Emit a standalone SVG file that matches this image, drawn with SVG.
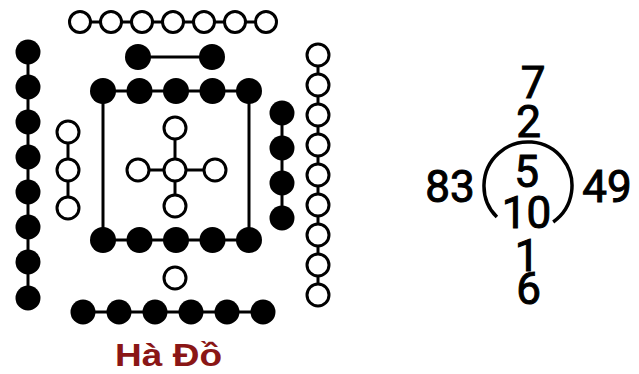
<svg xmlns="http://www.w3.org/2000/svg" width="639" height="374" viewBox="0 0 639 374">
<style>
.c{stroke:#000;stroke-width:3;fill:none}
.b{fill:#000}
.o{fill:#fff;stroke:#000;stroke-width:3}
.n{font-family:Roboto,"Liberation Sans",Arial,sans-serif;font-size:44px;fill:#000;stroke:#000;stroke-width:1;text-anchor:middle}
.t{font-family:"Liberation Sans",Arial,sans-serif;font-size:32px;font-weight:bold;fill:#8a1616}
</style>
<rect width="639" height="374" fill="#fff"/>
<g id="connectors" class="c">
<line x1="80" y1="22" x2="266" y2="22"/>
<line x1="138" y1="57" x2="212" y2="57"/>
<line x1="103" y1="91" x2="249" y2="91"/>
<line x1="103" y1="240" x2="249" y2="240"/>
<line x1="103" y1="91" x2="103" y2="240"/>
<line x1="249" y1="91" x2="249" y2="240"/>
<line x1="28" y1="52" x2="28" y2="298"/>
<line x1="68" y1="132" x2="68" y2="208"/>
<line x1="138" y1="170" x2="215" y2="170"/>
<line x1="175" y1="128" x2="175" y2="206"/>
<line x1="83" y1="312" x2="263" y2="312"/>
<line x1="282" y1="113" x2="282" y2="218"/>
<line x1="318" y1="55" x2="318" y2="295"/>
</g>
<g id="top-open-7">
<circle class="o" cx="80" cy="22" r="10.5"/><circle class="o" cx="111" cy="22" r="10.5"/><circle class="o" cx="142" cy="22" r="10.5"/><circle class="o" cx="173" cy="22" r="10.5"/><circle class="o" cx="204" cy="22" r="10.5"/><circle class="o" cx="235" cy="22" r="10.5"/><circle class="o" cx="266" cy="22" r="10.5"/>
</g>
<g id="top-black-2">
<circle class="b" cx="138" cy="57" r="13"/><circle class="b" cx="212" cy="57" r="13"/>
</g>
<g id="inner-black-top-5">
<circle class="b" cx="103" cy="91" r="13"/><circle class="b" cx="139.5" cy="91" r="13"/><circle class="b" cx="176" cy="91" r="13"/><circle class="b" cx="212.5" cy="91" r="13"/><circle class="b" cx="249" cy="91" r="13"/>
</g>
<g id="inner-black-bottom-5">
<circle class="b" cx="103" cy="240" r="13"/><circle class="b" cx="139.5" cy="240" r="13"/><circle class="b" cx="176" cy="240" r="13"/><circle class="b" cx="212.5" cy="240" r="13"/><circle class="b" cx="249" cy="240" r="13"/>
</g>
<g id="left-black-8">
<circle class="b" cx="28" cy="52" r="12.5"/><circle class="b" cx="28" cy="87" r="12.5"/><circle class="b" cx="28" cy="122" r="12.5"/><circle class="b" cx="28" cy="157" r="12.5"/><circle class="b" cx="28" cy="192" r="12.5"/><circle class="b" cx="28" cy="227" r="12.5"/><circle class="b" cx="28" cy="262" r="12.5"/><circle class="b" cx="28" cy="298" r="12.5"/>
</g>
<g id="left-open-3">
<circle class="o" cx="68" cy="132" r="11"/><circle class="o" cx="68" cy="170" r="11"/><circle class="o" cx="68" cy="208" r="11"/>
</g>
<g id="center-open-5">
<circle class="o" cx="175" cy="128" r="11"/><circle class="o" cx="138" cy="170" r="11"/><circle class="o" cx="175" cy="170" r="11"/><circle class="o" cx="215" cy="170" r="11"/><circle class="o" cx="175" cy="206" r="11"/>
</g>
<g id="lower-open-1">
<circle class="o" cx="175" cy="278" r="11"/>
</g>
<g id="bottom-black-6">
<circle class="b" cx="83" cy="312" r="12.5"/><circle class="b" cx="119" cy="312" r="12.5"/><circle class="b" cx="155" cy="312" r="12.5"/><circle class="b" cx="191" cy="312" r="12.5"/><circle class="b" cx="227" cy="312" r="12.5"/><circle class="b" cx="263" cy="312" r="12.5"/>
</g>
<g id="right-black-4">
<circle class="b" cx="282" cy="113" r="12.5"/><circle class="b" cx="282" cy="148" r="12.5"/><circle class="b" cx="282" cy="183" r="12.5"/><circle class="b" cx="282" cy="218" r="12.5"/>
</g>
<g id="right-open-9">
<circle class="o" cx="318" cy="55" r="11"/><circle class="o" cx="318" cy="85" r="11"/><circle class="o" cx="318" cy="115" r="11"/><circle class="o" cx="318" cy="145" r="11"/><circle class="o" cx="318" cy="175" r="11"/><circle class="o" cx="318" cy="205" r="11"/><circle class="o" cx="318" cy="235" r="11"/><circle class="o" cx="318" cy="265" r="11"/><circle class="o" cx="318" cy="295" r="11"/>
</g>
<g id="title">
<text class="t" x="115" y="366" textLength="107" lengthAdjust="spacingAndGlyphs">Hà Đồ</text>
</g>
<g id="numbers">
<text class="n" x="533" y="98">7</text>
<text class="n" x="528.5" y="137">2</text>
<text class="n" x="526.5" y="187">5</text>
<text class="n" x="526.5" y="228">10</text>
<text class="n" x="527" y="271">1</text>
<text class="n" x="528.5" y="304">6</text>
<text class="n" x="450" y="202">83</text>
<text class="n" x="607" y="202">49</text>
<path d="M553.2,222 A44,44 0 1 0 496.9,217.1" fill="none" stroke="#000" stroke-width="3.5"/>
</g>
</svg>
